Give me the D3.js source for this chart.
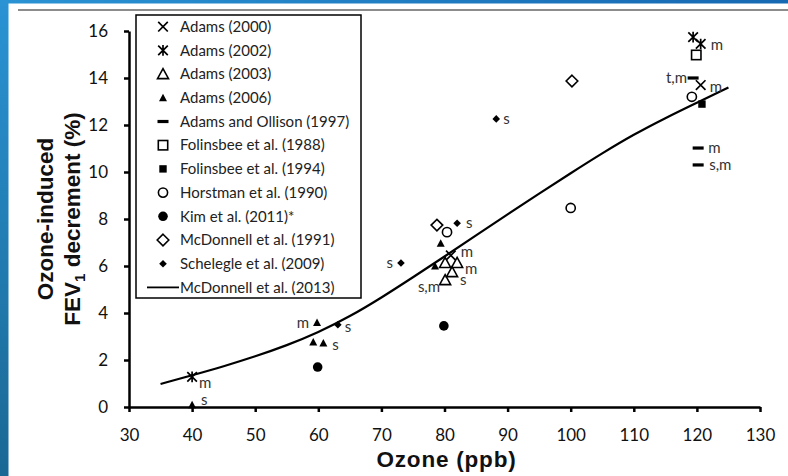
<!DOCTYPE html>
<html>
<head>
<meta charset="utf-8">
<script src="https://cdn.jsdelivr.net/npm/d3@7"></script>
<style>
  body { margin: 0; background: #fff; }
  svg { display: block; }
  .axis text { font-family: Lato, "Open Sans", sans-serif; font-size: 17px; fill: #111; }
  .axis .domain, .axis line { stroke: #000; stroke-width: 2.5; }
  .legend text { font-family: Lato, "Open Sans", sans-serif; font-size: 15px; fill: #222; }
  .note { font-family: Lato, "Open Sans", sans-serif; font-size: 15px; fill: #333; }
  .title { font-family: "Liberation Sans", Arial, sans-serif; font-size: 22.5px; font-weight: bold; fill: #111; }
</style>
</head>
<body>
<div class="chartContainer"></div>
<script>
// ======= data ========

var ozoneTicks = [30, 40, 50, 60, 70, 80, 90, 100, 110, 120, 130];
var fevTicks = [0, 2, 4, 6, 8, 10, 12, 14, 16];

var studies = ["Adams (2000)", "Adams (2002)", "Adams (2003)", "Adams (2006)",
  "Adams and Ollison (1997)", "Folinsbee et al. (1988)", "Folinsbee et al. (1994)",
  "Horstman et al. (1990)", "Kim et al. (2011)*", "McDonnell et al. (1991)",
  "Schelegle et al. (2009)", "McDonnell et al. (2013)"];

// [ozone ppb, FEV1 decrement %]
var adams2000 = [[81.0, 6.45], [120.6, 13.7]];
var adams2002 = [[40, 1.28], [119.4, 15.74], [120.6, 15.45]];
var adams2003 = [[80.1, 6.13], [82.0, 6.13], [81.2, 5.74], [80.1, 5.4]];
var adams2006 = [[40, 0.1], [59.8, 3.6], [59.2, 2.77], [60.8, 2.72], [78.5, 6.0], [79.4, 6.97]];
var adamsOllison = [[119.4, 14.0], [120.2, 11.02], [120.2, 10.3]];
var folinsbee1988 = [[119.9, 14.98]];
var folinsbee1994 = [[120.8, 12.89]];
var horstman1990 = [[80.4, 7.44], [100, 8.47], [119.2, 13.2]];
var kim2011 = [[59.9, 1.7], [79.9, 3.45]];
var mcdonnell1991 = [[78.8, 7.74], [100.2, 13.87]];
var schelegle2009 = [[63.1, 3.5], [73.1, 6.13], [82.0, 7.82], [88.2, 12.26]];

var modelOzone = [35, 40, 45, 50, 55, 60, 65, 70, 75, 80, 85, 90, 95, 100, 105, 110, 115, 120, 125];
var modelFev = [0.98, 1.35, 1.73, 2.15, 2.62, 3.17, 3.85, 4.65, 5.52, 6.4, 7.3, 8.2, 9.08, 9.95, 10.8, 11.6, 12.3, 12.95, 13.6];

// [text, ozone, FEV1] of the point each note belongs to
var notes = [["m", 40, 1.28], ["s", 40, 0.1], ["m", 59.8, 3.6], ["s", 63.1, 3.5],
  ["s", 60.8, 2.72], ["s", 73.1, 6.13], ["s", 82.0, 7.82], ["m", 81.0, 6.45],
  ["m", 82.0, 6.13], ["s", 81.2, 5.74], ["s,m", 80.1, 5.4], ["s", 88.2, 12.26],
  ["m", 120.6, 15.45], ["t,m", 119.4, 14.0], ["m", 120.6, 13.7], ["m", 120.2, 11.02],
  ["s,m", 120.2, 10.3]];

// ======= layout ========

var width = 788;
var height = 476;

var svg = d3.select(".chartContainer")
  .append("svg")
    .attr("width", width)
    .attr("height", height);

var x = d3.scaleLinear().domain([30, 130]).range([129, 760]);
var y = d3.scaleLinear().domain([0, 16]).range([407, 31]);

// slide frame
var defs = svg.append("defs");
var gl = defs.append("linearGradient").attr("id", "sideBlue").attr("x1", 0).attr("y1", 0).attr("x2", 0).attr("y2", 1);
gl.append("stop").attr("offset", 0).attr("stop-color", "#2a93d4");
gl.append("stop").attr("offset", 1).attr("stop-color", "#1a6894");
var gt = defs.append("linearGradient").attr("id", "topBlue");
gt.append("stop").attr("offset", 0).attr("stop-color", "#2a93d4");
gt.append("stop").attr("offset", 1).attr("stop-color", "#1668b2");

svg.append("rect").attr("x", 0).attr("y", 0).attr("width", width).attr("height", 3.5).style("fill", "url(#topBlue)");
svg.append("rect").attr("x", 0).attr("y", 0).attr("width", 8.5).attr("height", height).style("fill", "url(#sideBlue)");
svg.append("line").attr("x1", 18).attr("x2", width).attr("y1", 10).attr("y2", 10)
  .style("stroke", "#666").style("stroke-width", 1.5);

// ======= axes ========

svg.append("g").attr("class", "axis")
    .attr("transform", "translate(0," + y(0) + ")")
    .call(d3.axisBottom(x).tickValues(ozoneTicks).tickSize(5).tickSizeOuter(0).tickPadding(17));

svg.append("g").attr("class", "axis")
    .attr("transform", "translate(" + x(30) + ",0)")
    .call(d3.axisLeft(y).tickValues(fevTicks).tickSize(5).tickSizeOuter(0).tickPadding(16));

svg.append("text").attr("class", "title")
    .attr("x", (x(30) + x(130)) / 2 + 2).attr("y", 467)
    .attr("text-anchor", "middle")
    .style("letter-spacing", "0.8px")
    .text("Ozone (ppb)");

svg.append("text").attr("class", "title")
    .attr("transform", "translate(53," + (y(0) + y(16)) / 2 + ") rotate(-90)")
    .attr("text-anchor", "middle")
    .text("Ozone-induced");

var t2 = svg.append("text").attr("class", "title")
    .attr("transform", "translate(80," + (y(0) + y(16)) / 2 + ") rotate(-90)")
    .attr("text-anchor", "middle");
t2.append("tspan").text("FEV");
t2.append("tspan").attr("dy", 5).style("font-size", "15px").text("1");
t2.append("tspan").attr("dy", -5).text(" decrement (%)");

// ======= markers ========

function drawMarker(g, type) {
  if (type === "x" || type === "star") {
    var r = 4.8;
    var d = "M" + (-r) + "," + (-r) + "L" + r + "," + r + "M" + (-r) + "," + r + "L" + r + "," + (-r);
    if (type === "star") d += "M0," + (-r - 0.5) + "L0," + (r + 0.5);
    g.append("path").attr("d", d).style("stroke", "#000").style("stroke-width", 1.7).style("fill", "none");
  } else if (type === "triOpen") {
    g.append("path").attr("d", "M0,-5.5L5.5,4.5L-5.5,4.5Z")
      .style("stroke", "#000").style("stroke-width", 1.6).style("fill", "none");
  } else if (type === "triSmall") {
    g.append("path").attr("d", "M0,-4L4,3.5L-4,3.5Z").style("fill", "#000");
  } else if (type === "dash") {
    g.append("rect").attr("x", -5.5).attr("y", -1.6).attr("width", 11).attr("height", 3.2).style("fill", "#000");
  } else if (type === "sqOpen") {
    g.append("rect").attr("x", -4.7).attr("y", -4.7).attr("width", 9.4).attr("height", 9.4)
      .style("stroke", "#000").style("stroke-width", 1.6).style("fill", "#fff");
  } else if (type === "sqFilled") {
    g.append("rect").attr("x", -3.7).attr("y", -3.7).attr("width", 7.4).attr("height", 7.4).style("fill", "#000");
  } else if (type === "circOpen") {
    g.append("circle").attr("r", 4.6).style("stroke", "#000").style("stroke-width", 1.6).style("fill", "#fff");
  } else if (type === "circFilled") {
    g.append("circle").attr("r", 4.8).style("fill", "#000");
  } else if (type === "diaOpen") {
    g.append("path").attr("d", "M0,-5.8L5.8,0L0,5.8L-5.8,0Z")
      .style("stroke", "#000").style("stroke-width", 1.6).style("fill", "#fff");
  } else if (type === "diaSmall") {
    g.append("path").attr("d", "M0,-3.8L3.8,0L0,3.8L-3.8,0Z").style("fill", "#000");
  }
}

var series = [adams2000, adams2002, adams2003, adams2006, adamsOllison, folinsbee1988,
  folinsbee1994, horstman1990, kim2011, mcdonnell1991, schelegle2009];
var markerTypes = ["x", "star", "triOpen", "triSmall", "dash", "sqOpen",
  "sqFilled", "circOpen", "circFilled", "diaOpen", "diaSmall"];

// ======= model curve ========

var line = d3.line()
    .x(function(d) { return x(d[0]); })
    .y(function(d) { return y(d[1]); })
    .curve(d3.curveBasis);

svg.append("path")
    .datum(modelOzone.map(function(v, i) { return [v, modelFev[i]]; }))
    .attr("d", line)
    .style("fill", "none").style("stroke", "#000").style("stroke-width", 2.2);

// ======= points ========

var points = svg.append("g").attr("class", "points");
series.forEach(function(s, k) {
  points.selectAll(".p" + k)
      .data(s)
    .enter().append("g")
      .attr("class", "p" + k)
      .attr("transform", function(d) { return "translate(" + x(d[0]) + "," + y(d[1]) + ")"; })
      .each(function() { drawMarker(d3.select(this), markerTypes[k]); });
});

// note offsets in px: [dx, dy, anchor]
var noteShift = [[7, 6, "start"], [9, -5, "start"], [-8, 0, "end"], [7, 2, "start"],
  [9, 2, "start"], [-8, 0, "end"], [9, 0, "start"], [10, -4, "start"],
  [8, 6, "start"], [8, 8, "start"], [-5, 7, "end"], [7, 0, "start"],
  [10, 1, "start"], [-6, 0, "end"], [9, 2, "start"], [10, 0, "start"],
  [11, 0, "start"]];

svg.selectAll(".note")
    .data(notes)
  .enter().append("text")
    .attr("class", "note")
    .attr("x", function(d, i) { return x(d[1]) + noteShift[i][0]; })
    .attr("y", function(d, i) { return y(d[2]) + noteShift[i][1]; })
    .attr("dy", "0.35em")
    .attr("text-anchor", function(d, i) { return noteShift[i][2]; })
    .text(function(d) { return d[0]; });

// ======= legend ========

var legend = svg.append("g").attr("class", "legend");
legend.append("rect")
    .attr("x", 136).attr("y", 15).attr("width", 225).attr("height", 283)
    .style("fill", "#fff").style("stroke", "#000").style("stroke-width", 1.5);

var rows = legend.selectAll(".row")
    .data(studies)
  .enter().append("g")
    .attr("class", "row")
    .attr("transform", function(d, i) { return "translate(163," + (26.7 + i * 23.7) + ")"; });

rows.each(function(d, i) {
  if (i < markerTypes.length) drawMarker(d3.select(this), markerTypes[i]);
  else d3.select(this).append("line").attr("x1", -16).attr("x2", 16)
      .style("stroke", "#000").style("stroke-width", 1.8);
});

rows.append("text")
    .attr("x", 17)
    .attr("dy", "0.35em")
    .text(function(d) { return d; });
</script>
</body>
</html>
